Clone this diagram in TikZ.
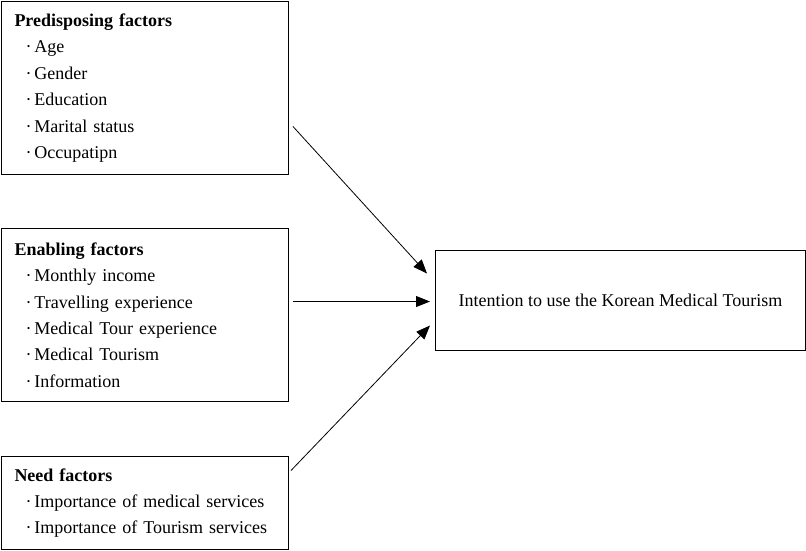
\documentclass[tikz,border=0pt]{standalone}
\usepackage{fontspec}
\setmainfont{Liberation Serif}
\usetikzlibrary{arrows.meta,calc}
\newcommand{\fitem}[1]{\hspace*{11pt}\textperiodcentered\,#1}
\tikzset{
  factor/.style={draw, line width=1pt, anchor=north west, minimum width=287pt, text width=261pt, inner xsep=13pt, align=left, font=\fontsize{18}{26.4}\selectfont},
  link/.style={-{Triangle[length=14pt,width=11pt]}, line width=0.8pt},
}
\begin{document}
\begin{tikzpicture}[x=1pt,y=-1pt]
			\useasboundingbox (0,0) rectangle (806,550);
			\node (pre)[factor, minimum height=173pt] at (1,1) {\textbf{Predisposing factors}\\ \fitem{Age}\\ \fitem{Gender}\\ \fitem{Education}\\ \fitem{Marital status}\\ \fitem{Occupatipn}};
			\node (ena)[factor, minimum height=173pt] at (1,228) {\textbf{Enabling factors}\\ \fitem{Monthly income}\\ \fitem{Travelling experience}\\ \fitem{Medical Tour experience}\\ \fitem{Medical Tourism}\\ \fitem{Information}};
			\node (need)[factor, minimum height=93pt] at (1,456) {\textbf{Need factors}\\ \fitem{Importance of medical services}\\ \fitem{Importance of Tourism services}};
			\node (goal)[draw, line width=1pt, anchor=north west, minimum width=370pt, minimum height=100pt, font=\fontsize{18}{20}\selectfont] at (435,250) {Intention to use the Korean Medical Tourism};

			\coordinate (s1) at ($(pre.east)+(4,38.5)$);
			\coordinate (e1) at ($(goal.west)+(-8,-27)$);
			\coordinate (s2) at ($(ena.east)+(4,-13.5)$);
			\coordinate (e2) at ($(goal.west)+(-5,1)$);
			\coordinate (s3) at ($(need.east)+(2,-32.5)$);
			\coordinate (e3) at ($(goal.west)+(-5,25)$);

			\draw[link] (s1)--(e1);
			\draw[link] (s2)--(e2);
			\draw[link] (s3)--(e3);
		\end{tikzpicture}
\end{document}
